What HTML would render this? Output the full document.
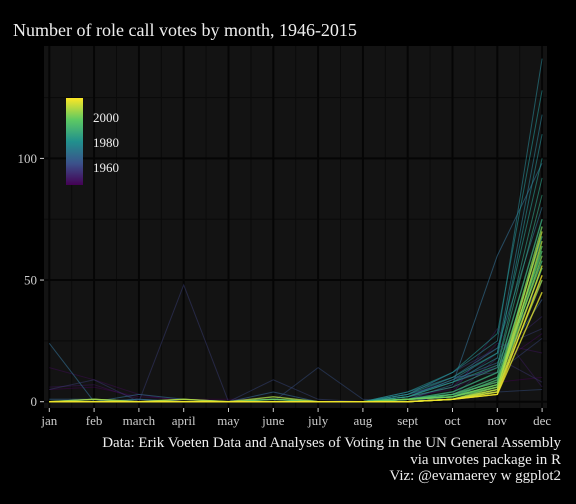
<!DOCTYPE html>
<html><head><meta charset="utf-8">
<style>
body{margin:0;background:#000;}
svg{display:block;font-family:"Liberation Serif",serif;}
</style></head>
<body>
<svg id="chart" width="576" height="504" viewBox="0 0 576 504">
<rect width="576" height="504" fill="#000"/>
<text x="13" y="36" fill="#eee" font-size="18">Number of role call votes by month, 1946-2015</text>
<rect x="44" y="46" width="503" height="362" fill="#131313"/>
<g id="grid"></g>
<g id="lines"></g>
<g id="axes"></g>
<defs>
<linearGradient id="vir" x1="0" y1="1" x2="0" y2="0">
<stop offset="0" stop-color="#440154"/><stop offset="0.25" stop-color="#3b528b"/><stop offset="0.5" stop-color="#21908d"/><stop offset="0.75" stop-color="#5dc963"/><stop offset="1" stop-color="#fde725"/>
</linearGradient>
</defs>
<g>
<rect x="66" y="98" width="17" height="87" fill="url(#vir)"/>
<text x="93" y="122" fill="#eee" font-size="13">2000</text>
<text x="93" y="147" fill="#eee" font-size="13">1980</text>
<text x="93" y="172" fill="#eee" font-size="13">1960</text>
</g>
<g fill="#eee" font-size="15" text-anchor="end">
<text x="561" y="447">Data: Erik Voeten Data and Analyses of Voting in the UN General Assembly</text>
<text x="561" y="464">via unvotes package in R</text>
<text x="561" y="480">Viz: @evamaerey w ggplot2</text>
</g>
</svg>
<script>
const months = ["jan","feb","march","april","may","june","july","aug","sept","oct","nov","dec"];
const yTicks = [0,50,100];
const years = [1946,1948,1950,1952,1955,1958,1960,1962,1964,1966,1968,1970,1972,1974,1976,1978,1980,1982,1984,1986,1988,1990,1992,1994,1996,1998,2000,2002,2004,2006,2008,2010,2012,2014];
const votes = [
 [5,6,2,1,1,1,0,0,1,3,8,10],
 [14,9,3,0,0,1,0,0,2,5,15,28],
 [6,7,1,0,0,0,0,0,1,6,24,20],
 [0,0,0,0,0,1,0,0,1,3,30,6],
 [0,1,0,0,0,0,0,0,2,6,20,35],
 [0,0,0,0,0,0,0,0,0,2,18,8],
 [5,9,0,48,0,0,0,0,3,12,22,30],
 [0,1,0,0,0,9,1,0,2,10,12,26],
 [0,0,0,0,0,0,14,1,0,3,4,5],
 [0,0,1,0,0,0,0,0,3,8,14,42],
 [1,1,0,0,0,4,0,0,2,9,16,50],
 [24,0,3,1,0,1,0,0,1,7,60,98],
 [0,0,1,0,0,0,0,0,4,10,22,80],
 [0,1,0,0,0,0,0,0,2,9,20,118],
 [0,0,0,0,0,0,0,0,3,12,25,141],
 [0,0,0,0,0,0,0,0,2,8,18,110],
 [0,0,0,0,0,1,0,0,4,12,28,128],
 [0,0,0,0,0,0,0,0,3,10,20,100],
 [0,0,0,0,0,0,0,0,2,8,15,92],
 [0,0,0,0,0,0,0,0,2,6,14,85],
 [0,0,0,0,0,1,0,0,1,4,12,75],
 [0,0,0,0,0,0,0,0,1,3,10,68],
 [0,0,0,0,0,0,0,0,1,2,9,58],
 [0,0,0,0,0,0,0,0,1,3,8,62],
 [0,0,0,0,0,0,0,0,1,2,7,55],
 [0,0,0,0,0,0,0,0,1,2,6,64],
 [0,1,0,1,0,1,0,0,1,2,7,72],
 [0,0,0,0,0,0,0,0,0,1,6,60],
 [0,0,0,0,0,0,0,0,0,1,5,50],
 [0,1,0,0,0,2,0,0,0,1,4,66],
 [0,0,0,1,0,0,0,0,0,1,5,70],
 [0,0,0,0,0,0,0,0,0,1,4,56],
 [0,0,0,0,0,0,0,0,0,1,3,45],
 [0,0,0,0,0,0,0,0,0,1,3,52]
];
const NS="http://www.w3.org/2000/svg";
const x0=49.3, dx=44.8, y0=401.7, ky=2.433;
const xS=i=>x0+i*dx;
const yS=v=>y0-v*ky;
const vir=["#440154","#3b528b","#21908d","#5dc963","#fde725"];
function hex(h){return [1,3,5].map(k=>parseInt(h.substr(k,2),16));}
function col(y){let t=(y-1946)/(2015-1946);t=Math.max(0,Math.min(1,t))*4;const i=Math.min(3,Math.floor(t)),f=t-i;const a=hex(vir[i]),b=hex(vir[i+1]);return "rgb("+a.map((v,k)=>Math.round(v+(b[k]-v)*f)).join(",")+")";}
function mk(tag,attrs,parent){const e=document.createElementNS(NS,tag);for(const k in attrs)e.setAttribute(k,attrs[k]);parent.appendChild(e);return e;}
const grid=document.getElementById('grid');
[25,75,125].forEach(v=>{const l=mk('line',{x1:44,x2:547,y1:yS(v),y2:yS(v),stroke:'#0a0a0a','stroke-width':1},grid);

});
months.forEach((m,i)=>{if(i<11){const l=mk('line',{x1:xS(i+0.5),x2:xS(i+0.5),y1:46,y2:408,stroke:'#0a0a0a','stroke-width':1},grid);

}});
yTicks.forEach(v=>{const l=mk('line',{x1:44,x2:547,y1:yS(v),y2:yS(v),stroke:'#050505','stroke-width':2},grid);

});
months.forEach((m,i)=>{const l=mk('line',{x1:xS(i),x2:xS(i),y1:46,y2:408,stroke:'#050505','stroke-width':2},grid);

});
const lines=document.getElementById('lines');
years.forEach((yr,j)=>{const pts=votes[j].map((v,i)=>xS(i).toFixed(1)+","+yS(v).toFixed(1)).join(" ");
const recent=yr>=1988;
const p=mk('polyline',{points:pts,fill:'none',stroke:col(yr),'stroke-width':recent?1.4:1,'stroke-opacity':recent?0.8:(yr<1966?0.45:0.65)},lines);

});
const axes=document.getElementById('axes');
yTicks.forEach(v=>{const t=mk('line',{x1:40,x2:44,y1:yS(v),y2:yS(v),stroke:'#ccc','stroke-width':1},axes);


const tx=mk('text',{x:37,y:yS(v)+4.5,fill:'#ccc','font-size':13,'text-anchor':'end'},axes);tx.textContent=v;

});
months.forEach((m,i)=>{const t=mk('line',{x1:xS(i),x2:xS(i),y1:408,y2:412,stroke:'#ccc','stroke-width':1},axes);


const tx=mk('text',{x:xS(i),y:425,fill:'#ccc','font-size':13,'text-anchor':'middle'},axes);tx.textContent=m;

});
</script>
</body></html>
